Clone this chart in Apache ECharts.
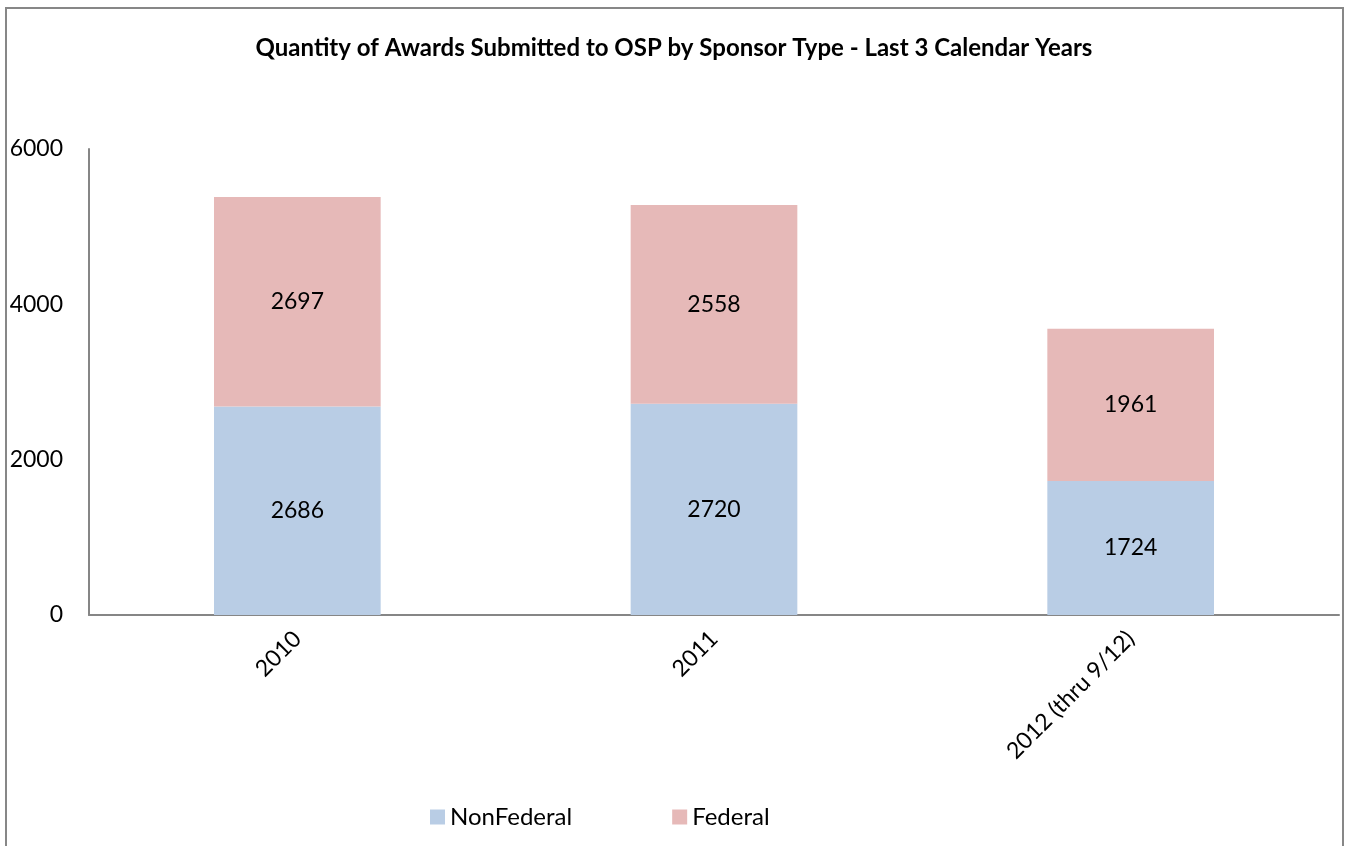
<!DOCTYPE html>
<html>
<head>
<meta charset="utf-8">
<script src="https://cdn.jsdelivr.net/npm/echarts@6/dist/echarts.min.js"></script>
<style>
html, body { margin: 0; padding: 0; background: #fff; }
#chart { width: 1348px; height: 846px; }
</style>
</head>
<body>
<div id="chart"></div>
<script>
var years = ['2010', '2011', '2012 (thru 9/12)'];
var nonFederal = [2686, 2720, 1724];
var federal = [2697, 2558, 1961];
var yTicks = { min: 0, max: 6000, interval: 2000 };

var myChart = echarts.init(document.getElementById('chart'));
var fontFamily = 'Lato, "Open Sans", sans-serif';

option = {
    backgroundColor: '#ffffff',
    textStyle: { fontFamily: fontFamily },
    title: {
        text: 'Quantity of Awards Submitted to OSP by Sponsor Type - Last 3 Calendar Years',
        left: 'center',
        top: 31,
        textStyle: { fontSize: 24, fontWeight: 'bold', color: '#000', fontFamily: fontFamily }
    },
    graphic: [{
        type: 'rect',
        shape: { x: 6, y: 8, width: 1337, height: 860 },
        style: { fill: 'none', stroke: '#878787', lineWidth: 2 },
        silent: true
    }],
    legend: {
        bottom: 12,
        left: 425,
        itemGap: 100,
        itemWidth: 15,
        itemHeight: 15,
        icon: 'rect',
        textStyle: { fontSize: 24, color: '#000', fontFamily: fontFamily },
        data: ['NonFederal', 'Federal']
    },
    grid: { left: 89, right: 9, top: 149, bottom: 231 },
    xAxis: {
        type: 'category',
        data: years,
        axisLine: { lineStyle: { color: '#868686', width: 2 } },
        axisTick: { show: false },
        axisLabel: { rotate: 45, fontSize: 23, color: '#000', margin: 20, interval: 0 }
    },
    yAxis: {
        type: 'value',
        min: yTicks.min,
        max: yTicks.max,
        interval: yTicks.interval,
        axisLine: { show: true, lineStyle: { color: '#868686', width: 2 } },
        axisTick: { show: false },
        splitLine: { show: false },
        axisLabel: {
            fontSize: 23, color: '#000', margin: 26,
            formatter: function (v) { return String(v); }
        }
    },
    series: [
        {
            name: 'NonFederal',
            type: 'bar',
            stack: 'total',
            barWidth: '40%',
            data: nonFederal,
            itemStyle: { color: '#B9CDE5' },
            label: { show: true, position: 'inside', fontSize: 23, color: '#000' }
        },
        {
            name: 'Federal',
            type: 'bar',
            stack: 'total',
            barWidth: '40%',
            data: federal,
            itemStyle: { color: '#E6B9B8' },
            label: { show: true, position: 'inside', fontSize: 23, color: '#000' }
        }
    ]
};
myChart.setOption(option);
</script>
</body>
</html>
